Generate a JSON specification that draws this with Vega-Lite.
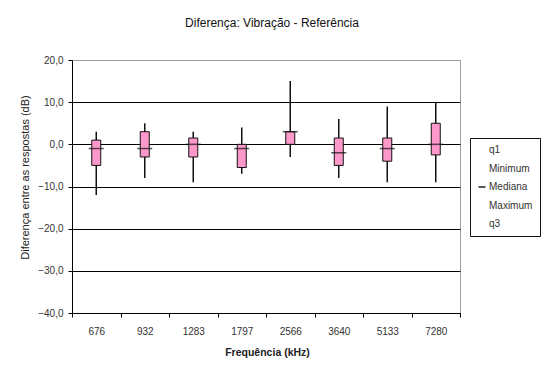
{
  "$schema": "https://vega.github.io/schema/vega-lite/v6.json",
  "autosize": {"type": "none"},
  "width": 388,
  "height": 253,
  "padding": {"left": 72, "top": 60, "right": 90, "bottom": 64},
  "background": "white",
  "title": {
    "text": "Diferença: Vibração - Referência",
    "fontSize": 12,
    "fontWeight": "normal",
    "font": "Liberation Sans",
    "color": "#111",
    "anchor": "middle",
    "dx": 6,
    "offset": 25
  },
  "config": {
    "font": "Liberation Sans",
    "view": {"stroke": "#a0a0a0", "strokeWidth": 1}
  },
  "data": {
    "values": [
      {"freq": "676", "min": -12, "q1": -5, "median": -1, "q3": 1, "max": 3},
      {"freq": "932", "min": -8, "q1": -3, "median": -1, "q3": 3, "max": 5},
      {"freq": "1283", "min": -9, "q1": -3, "median": 0, "q3": 1.5, "max": 3},
      {"freq": "1797", "min": -7, "q1": -5.5, "median": -1, "q3": 0, "max": 4},
      {"freq": "2566", "min": -3, "q1": 0, "median": 3, "q3": 3, "max": 15},
      {"freq": "3640", "min": -8, "q1": -5, "median": -2, "q3": 1.5, "max": 6},
      {"freq": "5133", "min": -9, "q1": -4, "median": -1, "q3": 1.5, "max": 9},
      {"freq": "7280", "min": -9, "q1": -2.5, "median": 0, "q3": 5, "max": 10}
    ]
  },
  "encoding": {
    "x": {
      "field": "freq",
      "type": "nominal",
      "sort": null,
      "scale": {"paddingInner": 0, "paddingOuter": 0},
      "axis": {
        "title": "Frequência (kHz)",
        "titleFontSize": 10.5,
        "titleFontWeight": "bold",
        "titleColor": "#222",
        "titleX": 195,
        "titleY": 39,
        "titleBaseline": "middle",
        "titleAlign": "center",
        "labelAngle": 0,
        "labelFontSize": 10,
        "labelColor": "#333",
        "labelPadding": 9,
        "tickBand": "extent",
        "tickSize": 4,
        "tickColor": "#000",
        "domainColor": "#000",
        "grid": false
      }
    }
  },
  "layer": [
    {
      "mark": {"type": "rule", "color": "#111", "strokeWidth": 1.5},
      "encoding": {
        "y": {
          "field": "min",
          "type": "quantitative",
          "scale": {"domain": [-40, 20], "nice": false},
          "axis": {
            "title": "Diferença entre as respostas (dB)",
            "titleFontSize": 11,
            "titleFontWeight": "normal",
            "titleColor": "#222",
            "titleX": -47,
            "titleY": 117,
            "titleAngle": 270,
            "titleAlign": "center",
            "titleBaseline": "middle",
            "values": [-40, -30, -20, -10, 0, 10, 20],
            "labelExpr": "replace(format(datum.value, '.1f'), '.', ',')",
            "labelFontSize": 10,
            "labelColor": "#333",
            "labelPadding": 5,
            "tickSize": 4,
            "tickColor": "#000",
            "domainColor": "#000",
            "grid": true,
            "gridColor": {"condition": {"test": "datum.value == 20", "value": "#a0a0a0"}, "value": "#000"},
            "gridWidth": 1,
            "gridOpacity": 1
          }
        },
        "y2": {"field": "max"}
      }
    },
    {
      "mark": {"type": "bar", "size": 9, "fill": "#ff99cc", "stroke": "#111", "strokeWidth": 1},
      "encoding": {
        "y": {"field": "q1", "type": "quantitative"},
        "y2": {"field": "q3"}
      }
    },
    {
      "mark": {"type": "tick", "size": 15, "thickness": 1.5, "color": "#111", "strokeWidth": 0},
      "encoding": {
        "y": {"field": "median", "type": "quantitative"},
        "stroke": {
          "datum": "Mediana",
          "type": "nominal",
          "scale": {
            "domain": ["q1", "Minimum", "Mediana", "Maximum", "q3"],
            "range": ["transparent", "transparent", "#111", "transparent", "transparent"]
          },
          "legend": {
            "title": null,
            "orient": "none",
            "legendX": 398,
            "legendY": 78,
            "direction": "vertical",
            "symbolType": "stroke",
            "symbolSize": 49,
            "symbolStrokeWidth": 2,
            "symbolFillColor": "transparent",
            "labelFontSize": 10,
            "labelColor": "#333",
            "labelOffset": 2,
            "rowPadding": 8.5,
            "padding": 7,
            "strokeColor": "#111",
            "fillColor": "white"
          }
        }
      }
    }
  ]
}
